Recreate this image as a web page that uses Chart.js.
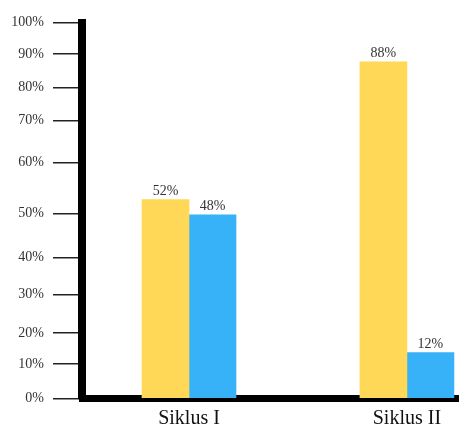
<!DOCTYPE html>
<html>
<head>
<meta charset="utf-8">
<script src="https://cdn.jsdelivr.net/npm/chart.js@4"></script>
<style>
  html, body { margin: 0; padding: 0; background: #fff; overflow: hidden; }
</style>
</head>
<body>
<canvas id="canvas" width="459" height="425"></canvas>
<script>
var categories = ["Siklus I", "Siklus II"];
var yellowValues = [52, 88];
var blueValues = [48, 12];
var tickLabels = ["0%", "10%", "20%", "30%", "40%", "50%", "60%", "70%", "80%", "90%", "100%"];
// the hand-ruled axis is not evenly spaced: where each tick sits on the value scale
var tickSpots = [0, 9, 17.1, 27.1, 36.9, 48.4, 61.6, 72.7, 81.3, 90, 98.2];

var serif = "'Liberation Serif', 'Times New Roman', serif";

function points(values) {
    return values.map(function (v, i) {
        return { x: i, y: v };
    });
}

// percent text above each bar
var valueLabels = {
    id: "valueLabels",
    afterDatasetsDraw: function (chart) {
        var ctx = chart.ctx;
        ctx.save();
        ctx.font = "14px " + serif;
        ctx.fillStyle = "#333";
        ctx.textAlign = "center";
        ctx.textBaseline = "alphabetic";
        chart.data.datasets.forEach(function (dataset, di) {
            chart.getDatasetMeta(di).data.forEach(function (bar, i) {
                ctx.fillText(dataset.data[i].y + "%", bar.x, bar.y - 5);
            });
        });
        ctx.restore();
    }
};

var config = {
    type: "bar",
    data: {
        datasets: [
            {
                data: points(yellowValues),
                backgroundColor: "rgb(254,216,86)",
                barThickness: 47
            },
            {
                data: points(blueValues),
                backgroundColor: "rgb(55,177,248)",
                barThickness: 47
            }
        ]
    },
    options: {
        responsive: false,
        animation: false,
        layout: { padding: { top: 22.7, left: 0, right: 0, bottom: 0 } },
        plugins: {
            legend: { display: false },
            tooltip: { enabled: false }
        },
        scales: {
            x: {
                type: "linear",
                offset: false,
                min: -0.491,
                max: 1.239,
                z: 1,
                afterBuildTicks: function (scale) {
                    scale.ticks = categories.map(function (c, i) {
                        return { value: i };
                    });
                },
                afterFit: function (scale) {
                    scale.height = 26.5;
                },
                grid: { display: false, drawTicks: false },
                border: { display: true, color: "#000", width: 7 },
                ticks: {
                    autoSkip: false,
                    maxRotation: 0,
                    padding: 8,
                    color: "#111",
                    font: { family: serif, size: 20 },
                    callback: function (value, index) {
                        return categories[index];
                    }
                }
            },
            y: {
                min: 0,
                max: tickSpots[tickSpots.length - 1],
                afterBuildTicks: function (scale) {
                    scale.ticks = tickSpots.map(function (v) {
                        return { value: v };
                    });
                },
                afterFit: function (scale) {
                    scale.width = 82;
                },
                grid: {
                    drawOnChartArea: false,
                    tickLength: 29,
                    color: "#222",
                    tickColor: "#222",
                    lineWidth: 1.5
                },
                border: { color: "#000", width: 8 },
                ticks: {
                    padding: 9,
                    color: "#333",
                    font: { family: serif, size: 14 },
                    callback: function (value, index) {
                        return tickLabels[index];
                    }
                }
            }
        }
    },
    plugins: [valueLabels]
};

window.onload = function () {
    var ctx = document.getElementById("canvas").getContext("2d");
    window.myBar = new Chart(ctx, config);
};
</script>
</body>
</html>
